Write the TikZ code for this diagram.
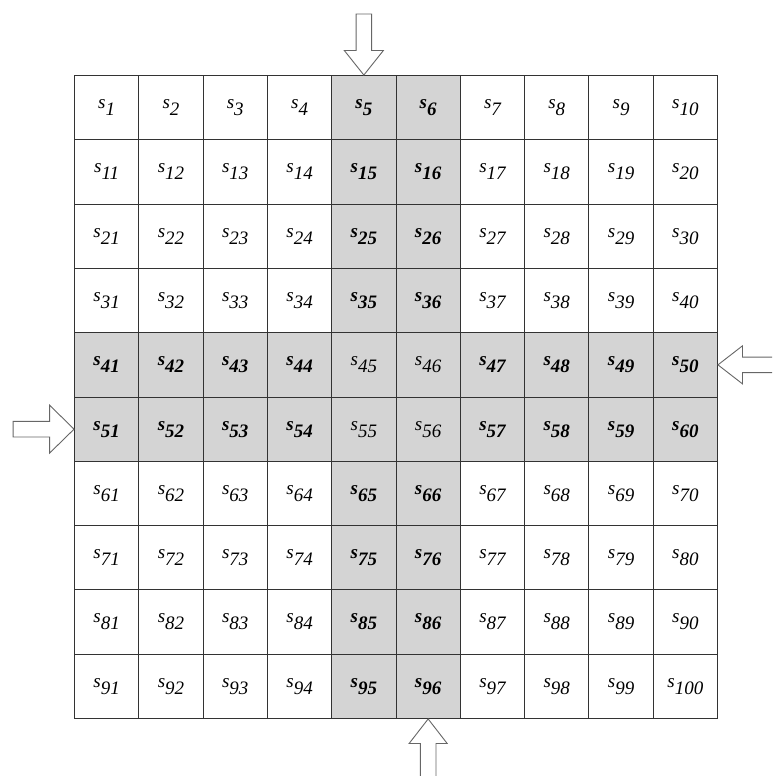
\documentclass[tikz,border=0pt]{standalone}
\usepackage{fontspec}
\setmainfont{Liberation Serif}
\usepackage{xcolor}
\usetikzlibrary{positioning,calc}

% state label: italic s with a lowered index
\newcommand{\slab}[1]{\textit{s}\raisebox{-7pt}{\fontsize{19}{19}\selectfont\itshape #1}}

\begin{document}
\begin{tikzpicture}[
  x=1pt, y=1pt,
  cell/.style={rectangle, draw=black!80, line width=0.9pt, minimum size=64.3pt, inner sep=0pt, font=\fontsize{19}{19}\selectfont},
  arrowline/.style={draw=black!60, fill=white, line width=0.9pt},
  pics/inarrow/.style={code={
    \draw[arrowline] (0,0) -- (-24.5,#1) -- (-24.5,7.8) -- (-61,7.8) -- (-61,-7.8)
      -- (-24.5,-7.8) -- (-24.5,-#1) -- cycle;
  }}
]

% page frame
\clip (0,0) rectangle (772,-776);

% Grid of states
\foreach \r in {1,...,10}{
  \foreach \c in {1,...,10}{
    \pgfmathtruncatemacro{\n}{10*(\r-1)+\c}
    \pgfmathtruncatemacro{\k}{((\c==5)||(\c==6)) + ((\r==5)||(\r==6))}
    \pgfmathtruncatemacro{\g}{\k>0 ? 17 : 0}
    \node[cell, fill=black!\g] (c\n) at ({74.5+64.3*(\c-0.5)}, {-75.5-64.3*(\r-0.5)})
      {\ifnum\k=1 \bfseries\fi\slab{\n}};
  }
}

% Entry arrows
\pic[rotate=-90] at (c5.north) {inarrow=19.5};
\pic[rotate=90] at (c96.south) {inarrow=19};
\pic[rotate=180] at (c50.east) {inarrow=19};
\pic at (c51.west) {inarrow=24};
\end{tikzpicture}
\end{document}
